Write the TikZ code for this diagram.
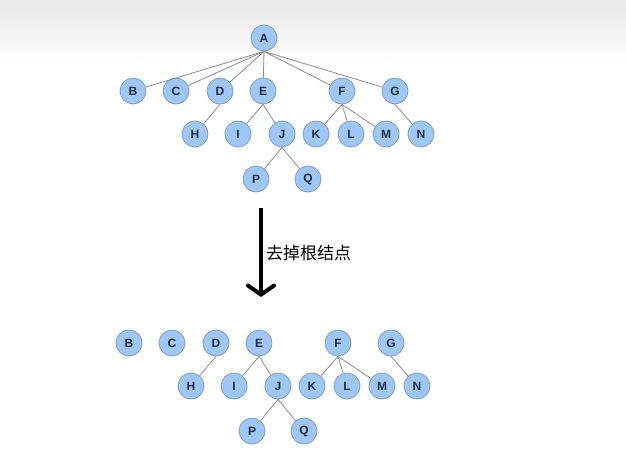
\documentclass[tikz,border=0pt]{standalone}
\usepackage{fontspec}
\setmainfont{Liberation Sans}
\newfontfamily\cjk{Noto Sans CJK SC}
\usetikzlibrary{arrows.meta}
\definecolor{nodeblue}{rgb}{0.62, 0.78, 0.96}
\definecolor{nodeline}{rgb}{0.48, 0.62, 0.77}
\definecolor{letter}{rgb}{0.12, 0.18, 0.27}
\definecolor{edgegray}{rgb}{0.55, 0.55, 0.55}

\begin{document}
\begin{tikzpicture}[x=1pt, y=-1pt,
    vtx/.style={circle, draw=nodeline, fill=nodeblue, line width=0.8pt,
      minimum size=26pt, inner sep=0pt, text=letter,
      font=\bfseries\fontsize{12}{12}\selectfont},
    edge/.style={edgegray, line width=0.8pt}]
    \useasboundingbox (0,0) rectangle (626,468);
    \shade[top color=black!9, bottom color=white] (0,0) rectangle (626,62);
    \node[vtx] (uA) at (264,38) {A};
    % the same forest twice: with root (u) and without (d)
    \foreach \t/\dx/\dy in {u/0/0, d/-4/252}{
      \foreach \n/\x/\y in {B/133/91, C/176/91, D/220/91, E/263/91, F/342/91, G/395/91,
          H/195/134, I/238/134, J/282/134, K/316/134, L/351/134, M/386/134, N/421/134,
          P/256/179, Q/308/179}
        \node[vtx] (\t\n) at (\x+\dx,\y+\dy) {\n};
      \foreach \p/\c in {D/H, E/I, E/J, J/P, J/Q, F/K, F/L, F/M, G/N}
        \draw[edge] (\t\p.south) -- (\t\c);
    }
    \foreach \c in {B,C,D,E,F,G}
      \draw[edge] (uA.south) -- (u\c);
    \coordinate (arrTop) at (261,208);
    \coordinate (arrEnd) at (261,297);
    \draw[line width=4pt, -{Straight Barb[length=9pt, width=26pt, line cap=round]}] (arrTop) -- (arrEnd);
    \node[anchor=west, inner sep=0pt] (lbl) at (266,253) {\cjk\fontsize{17}{17}\selectfont 去掉根结点};
  \end{tikzpicture}
\end{document}
